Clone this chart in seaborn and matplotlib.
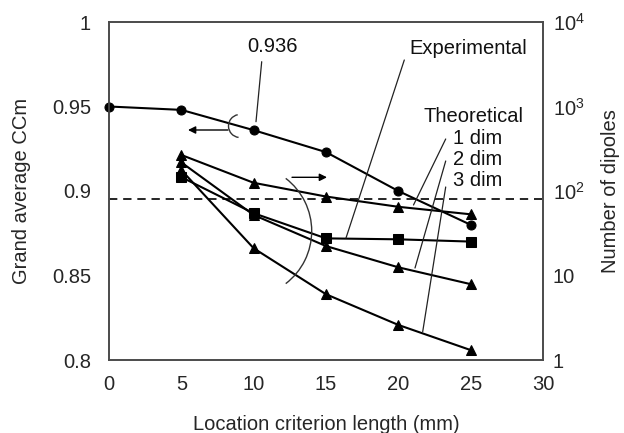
import matplotlib
matplotlib.use("Agg")
import matplotlib.pyplot as plt
import seaborn as sns
import pandas as pd
from matplotlib.patches import Arc
from matplotlib.lines import Line2D
from matplotlib.ticker import FixedLocator, FixedFormatter

# ---------------- data ----------------
x_ccm = [0, 5, 10, 15, 20, 25]
ccm = [0.950, 0.948, 0.936, 0.923, 0.900, 0.880]

x_dip = [5, 10, 15, 20, 25]
experimental = [146, 54.6, 27.5, 26.8, 25.2]
dim1 = [267, 125, 86, 65, 53]
dim2 = [218, 52, 22.3, 12.5, 7.9]
dim3 = [177, 21, 6.0, 2.6, 1.31]

threshold = 0.895

x_ticks = [0, 5, 10, 15, 20, 25, 30]
left_ticks = [0.8, 0.85, 0.9, 0.95, 1.0]
left_labels = ["0.8", "0.85", "0.9", "0.95", "1"]
right_ticks = [1, 10, 100, 1000, 10000]
right_labels = ["1", "10", r"$10^{2}$", r"$10^{3}$", r"$10^{4}$"]

# ---------------- style ----------------
sns.set_style("white")
plt.rcParams["font.family"] = ["Liberation Sans", "DejaVu Sans"]
plt.rcParams["mathtext.fontset"] = "custom"
plt.rcParams["mathtext.rm"] = "Liberation Sans"
plt.rcParams["mathtext.it"] = "Liberation Sans:italic"
plt.rcParams["mathtext.bf"] = "Liberation Sans:bold"

W, H = 624, 433
fig = plt.figure(figsize=(W / 100, H / 100), dpi=100)
ax = fig.add_axes([109 / W, 73 / H, 434 / W, 338 / H])
ax2 = ax.twinx()

FS = 14.5
spine_col = "#4a4a4a"

# left axis series (circles)
df_c = pd.DataFrame({"x": x_ccm, "y": ccm})
sns.lineplot(data=df_c, x="x", y="y", ax=ax, color="black", marker="o",
             markersize=6.5, markeredgecolor="black", linewidth=1.5, sort=False,
             clip_on=False, zorder=5)
ax.axhline(threshold, color="black", linewidth=1.2, dashes=(5, 3.5))

# right axis series
series = [
    (experimental, "s", 6.5),
    (dim1, "^", 7.5),
    (dim2, "^", 7.5),
    (dim3, "^", 7.5),
]
for vals, mk, ms in series:
    d = pd.DataFrame({"x": x_dip, "y": vals})
    sns.lineplot(data=d, x="x", y="y", ax=ax2, color="black", marker=mk,
                 markersize=ms, markeredgecolor="black", linewidth=1.5, sort=False)

ax.set_xlim(0, 30)
ax.set_ylim(0.8, 1.0)
ax2.set_yscale("log")
ax2.set_ylim(1, 10000)

ax.xaxis.set_major_locator(FixedLocator(x_ticks))
ax.set_xticklabels([str(t) for t in x_ticks])
ax.yaxis.set_major_locator(FixedLocator(left_ticks))
ax.yaxis.set_major_formatter(FixedFormatter(left_labels))
ax2.yaxis.set_major_locator(FixedLocator(right_ticks))
ax2.yaxis.set_major_formatter(FixedFormatter(right_labels))
ax2.yaxis.set_minor_locator(FixedLocator([]))

ax.tick_params(axis="x", direction="in", length=3, pad=11, labelsize=FS, color=spine_col)
ax.tick_params(axis="y", direction="in", length=0, pad=13, labelsize=FS)
ax2.tick_params(axis="y", direction="in", length=0, pad=7, labelsize=FS)

for a in (ax, ax2):
    for s in a.spines.values():
        s.set_color(spine_col)
        s.set_linewidth(1.2)

ax.set_xlabel("Location criterion length (mm)", fontsize=FS, labelpad=15)
ax.set_ylabel("Grand average CCm", fontsize=FS, labelpad=15)
ax2.set_ylabel("Number of dipoles", fontsize=FS, labelpad=12)


# ---------------- annotations (pixel helpers) ----------------
def P(px, py):
    return (px / W, 1 - py / H)


def seg(p0, p1, lw=0.9):
    (x0, y0), (x1, y1) = P(*p0), P(*p1)
    fig.add_artist(Line2D([x0, x1], [y0, y1], transform=fig.transFigure,
                          color="#222222", linewidth=lw))


def txt(px, py, s, ha="center"):
    x, y = P(px, py)
    fig.text(x, y, s, fontsize=FS, ha=ha, va="center", color="#111111")


def arrow(p_from, p_to):
    ax.annotate("", xy=P(*p_to), xytext=P(*p_from), xycoords="figure fraction",
                textcoords="figure fraction",
                arrowprops=dict(arrowstyle="-|>", color="black", lw=1.0,
                                mutation_scale=11, shrinkA=0, shrinkB=0))


def arc(cx, cy, r, t1, t2):
    x, y = P(cx, cy)
    fig.add_artist(Arc((x, y), 2 * r / W, 2 * r / H, theta1=t1, theta2=t2,
                       transform=fig.transFigure, color="#333333", linewidth=1.0))


txt(273, 47, "0.936")
seg((261.7, 61.7), (256, 121.7))
arrow((228, 130), (188, 130))
arc(240, 126, 11.5, 98, 265)

arrow((292, 177.3), (327, 177.3))
arc(245.4, 231, 66.3, -62, 62)

txt(468, 49, "Experimental")
seg((404.3, 60), (346, 238))

txt(474, 116.7, "Theoretical")
txt(453, 138.3, "1 dim", ha="left")
txt(453, 159.3, "2 dim", ha="left")
txt(453, 180, "3 dim", ha="left")
seg((445.7, 139), (413.5, 205))
seg((445.7, 161), (415, 268))
seg((445.7, 187), (422.7, 331.7))

fig.savefig("out.png", dpi=100)
